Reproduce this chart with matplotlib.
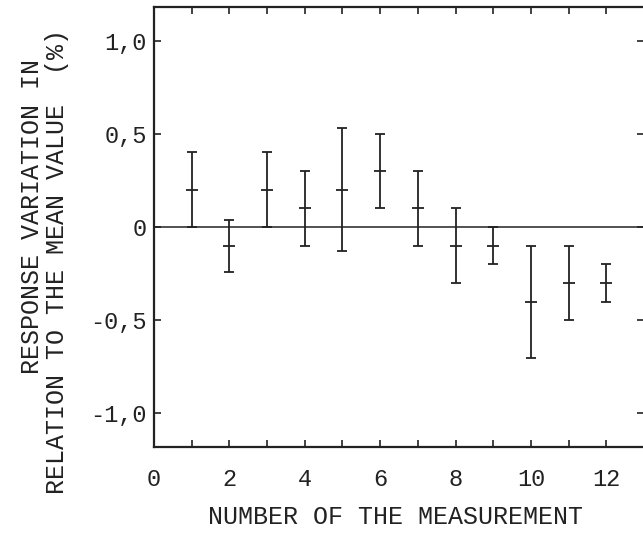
import numpy as np
import matplotlib.pyplot as plt

# measurement number, mean deviation (%) and half-width of the bar
meas = [1, 2, 3, 4, 5, 6, 7, 8, 9, 10, 11, 12]
mean_dev = [0.2, -0.1, 0.2, 0.1, 0.2, 0.3, 0.1, -0.1, -0.1, -0.4, -0.3, -0.3]
half_range = [0.2, 0.14, 0.2, 0.2, 0.33, 0.2, 0.2, 0.2, 0.1, 0.3, 0.2, 0.1]

xtick_vals = [0, 2, 4, 6, 8, 10, 12]
ytick_vals = [-1.0, -0.5, 0.0, 0.5, 1.0]
ytick_labels = ['-1,0', '-0,5', '0', '0,5', '1,0']

plt.rcParams['font.family'] = ['Liberation Mono', 'DejaVu Sans Mono']

fig = plt.figure(figsize=(6.43, 5.42), dpi=100)
ax = fig.add_axes([0.2395, 0.1753, 0.7621, 0.8117])

ax.axhline(0, color='#333333', linewidth=1.2, zorder=1)
ax.errorbar(meas, mean_dev, yerr=half_range, fmt='_', color='#222222',
            markersize=9, markeredgewidth=1.3, elinewidth=1.3,
            capsize=3.5, capthick=1.3, zorder=2)

ax.set_xlim(0, 13)
ax.set_ylim(-1.18, 1.18)
ax.set_xticks(np.arange(0, 13))
ax.set_xticklabels([str(v) if v in xtick_vals else '' for v in range(13)])
ax.set_yticks(ytick_vals)
ax.set_yticklabels(ytick_labels)

ax.tick_params(axis='both', direction='in', top=True, right=True,
               length=5, width=1.2, labelsize=17, colors='#222222')
ax.tick_params(axis='x', pad=15)
ax.tick_params(axis='y', pad=5)
for s in ax.spines.values():
    s.set_linewidth(1.6)
    s.set_color('#222222')

fig.text(0.615, 0.046, 'NUMBER OF THE MEASUREMENT', ha='center', va='center',
         fontsize=18, color='#222222')
fig.text(0.050, 0.60, 'RESPONSE VARIATION IN', ha='center', va='center',
         rotation=90, fontsize=18, color='#222222')
fig.text(0.089, 0.517, 'RELATION TO THE MEAN VALUE  (%)', ha='center',
         va='center', rotation=90, fontsize=18, color='#222222')

fig.savefig('out.png', dpi=100)
